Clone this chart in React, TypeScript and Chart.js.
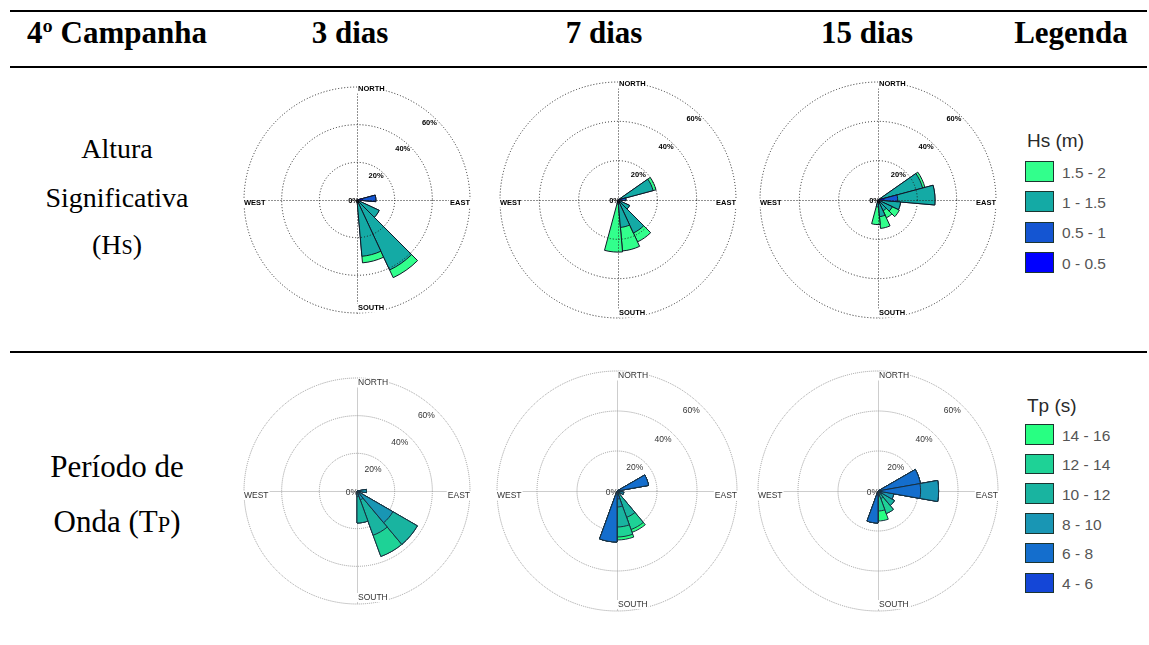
import React, { useEffect, useRef } from 'react';
import { Chart, registerables } from 'chart.js';

Chart.register(...registerables);

// ---------- categories ----------
const headers = ['4º Campanha', '3 dias', '7 dias', '15 dias', 'Legenda'];
const cardinalLabels = ['NORTH', 'EAST', 'SOUTH', 'WEST'];
const sectorsHs = ['5°', '25°', '45°', '65°', '85°', '105°', '125°', '145°', '165°', '185°', '205°', '225°', '245°', '265°', '285°', '305°', '325°', '345°'];
const sectorsTp = ['10°', '30°', '50°', '70°', '90°', '110°', '130°', '150°', '170°', '190°', '210°', '230°', '250°', '270°', '290°', '310°', '330°', '350°'];
const radialTicks = [0, 20, 40, 60];

const hsClasses = ['0 - 0.5', '0.5 - 1', '1 - 1.5', '1.5 - 2'];
const hsColors = ['#0000FF', '#1455D2', '#14AAA5', '#32FF8C'];
const tpClasses = ['4 - 6', '6 - 8', '8 - 10', '10 - 12', '12 - 14', '14 - 16'];
const tpColors = ['#1446D7', '#146ECD', '#1996B4', '#19B4A0', '#1ED296', '#28FF82'];

// ---------- Hs (%) per sector, one row per class ----------
const hs3dias = [
  [0, 0, 0, 0, 3, 0, 0, 0, 0, 0, 0, 0, 0, 0, 0, 0, 0, 0],
  [0, 0, 0, 0, 7, 0, 0, 0, 0, 0, 0, 0, 0, 0, 0, 0, 0, 0],
  [0, 0, 0, 0, 0, 0, 13, 41, 30, 0, 0, 0, 0, 0, 0, 0, 0, 0],
  [0, 0, 0, 0, 0, 0, 0, 4.5, 3.5, 0, 0, 0, 0, 0, 0, 0, 0, 0],
];
const hs7dias = [
  [0, 0, 0, 0, 1.5, 0, 0, 0, 0, 0, 0, 0, 0, 0, 0, 0, 0, 0],
  [0, 0, 0, 0, 2.5, 0, 0, 0, 0, 0, 0, 0, 0, 0, 0, 0, 0, 0],
  [0, 0, 0, 18.5, 0, 0, 6.5, 18.5, 14, 2, 0, 0, 0, 0, 0, 0, 0, 0],
  [0, 0, 0, 1.5, 0, 0, 0, 5, 12, 24.5, 0, 0, 0, 0, 0, 0, 0, 0],
];
const hs15dias = [
  [0, 0, 0, 0, 3, 0, 0, 0, 0, 0, 0, 0, 0, 0, 0, 0, 0, 0],
  [0, 0, 0, 0, 7, 0, 0, 0, 0, 0, 0, 0, 0, 0, 0, 0, 0, 0],
  [0, 0, 0, 23.5, 19, 11.5, 8, 6, 8.5, 3.5, 0, 0, 0, 0, 0, 0, 0, 0],
  [0, 0, 0, 1.2, 0, 0, 4, 4, 6, 9, 0, 0, 0, 0, 0, 0, 0, 0],
];

// ---------- Tp (%) per sector, one row per class ----------
const tp3dias = [
  [0, 0, 0, 0, 0, 0, 0, 0, 0, 0, 0, 0, 0, 0, 0, 0, 0, 0],
  [0, 0, 0, 0, 0, 0, 0, 0, 0, 0, 0, 0, 0, 0, 0, 0, 0, 0],
  [0, 0, 0, 0, 5, 0, 22, 5, 3, 0, 0, 0, 0, 0, 0, 0, 0, 0],
  [0, 0, 0, 0, 0, 0, 15, 20, 14, 0, 0, 0, 0, 0, 0, 0, 0, 0],
  [0, 0, 0, 0, 0, 0, 0, 12, 0, 0, 0, 0, 0, 0, 0, 0, 0, 0],
  [0, 0, 0, 0, 0, 0, 0, 0, 0, 0, 0, 0, 0, 0, 0, 0, 0, 0],
];
const tp7dias = [
  [0, 0, 0, 1, 0, 0, 0, 0, 0, 0, 0, 0, 0, 0, 0, 0, 0, 0],
  [0, 0, 0, 15, 2, 0, 0, 0, 4, 25.5, 0, 0, 0, 0, 0, 0, 0, 0],
  [0, 0, 0, 0, 0, 3.5, 0, 0, 4, 0, 0, 0, 0, 0, 0, 0, 0, 0],
  [0, 0, 0, 0, 0, 0, 0, 14, 10, 0, 0, 0, 0, 0, 0, 0, 0, 0],
  [0, 0, 0, 0, 0, 0, 0, 6.5, 5, 0, 0, 0, 0, 0, 0, 0, 0, 0],
  [0, 0, 0, 0, 0, 0, 0, 1.5, 1.5, 0, 0, 0, 0, 0, 0, 0, 0, 0],
];
const tp15dias = [
  [0, 0, 0, 0, 0, 0, 0, 0, 0, 2, 0, 0, 0, 0, 0, 0, 0, 0],
  [0, 0, 0, 21.5, 21.3, 2, 0, 0, 0, 14, 0, 0, 0, 0, 0, 0, 0, 0],
  [0, 0, 0, 0, 9, 6, 2, 0, 0, 0, 0, 0, 0, 0, 0, 0, 0, 0],
  [0, 0, 0, 0, 0, 0, 7.5, 4, 0, 0, 0, 0, 0, 0, 0, 0, 0, 0],
  [0, 0, 0, 0, 0, 0, 0, 8, 10, 0, 0, 0, 0, 0, 0, 0, 0, 0],
  [0, 0, 0, 0, 0, 0, 0, 0, 5, 0, 0, 0, 0, 0, 0, 0, 0, 0],
];

const SERIF = '"Liberation Serif", "Times New Roman", serif';
const SANS = '"Liberation Sans", Arial, sans-serif';

type Look = {
  font: string;
  color: string;
  lineColor: string;
  dash: number[];
  edge: string;
  gridOnTop: boolean;
  northDy: number;
  southDy: number;
  ewDy: number;
  tickDx: number;
  tickDy: number;
  zeroDx: number;
  zeroDy: number;
};

const lookHs: Look = {
  font: `bold 7.5px ${SANS}`,
  color: '#000',
  lineColor: '#222',
  dash: [1, 2],
  edge: '#101828',
  gridOnTop: true,
  northDy: 2,
  southDy: -5,
  ewDy: 3,
  tickDx: 0,
  tickDy: 2.6,
  zeroDx: 2,
  zeroDy: 0.5,
};
const lookTp: Look = {
  font: `8.5px ${SANS}`,
  color: '#333',
  lineColor: '#9a9a9a',
  dash: [1, 1],
  edge: '#183040',
  gridOnTop: false,
  northDy: 5,
  southDy: -6.5,
  ewDy: 4.5,
  tickDx: -2,
  tickDy: 5,
  zeroDx: 1,
  zeroDy: 2,
};

function drawAxes(chart: any, o: Look) {
  const s = chart.scales.r;
  const ctx = chart.ctx;
  const R = s.getDistanceFromCenterForValue(s.max);
  const x = s.xCenter + 0.5;
  const y = s.yCenter + 0.5;
  ctx.save();
  ctx.strokeStyle = o.lineColor;
  ctx.lineWidth = 1;
  ctx.setLineDash(o.dash);
  ctx.beginPath();
  ctx.moveTo(x - R, y);
  ctx.lineTo(x + R, y);
  ctx.moveTo(x, y - R);
  ctx.lineTo(x, y + R);
  ctx.stroke();
  ctx.restore();
}

function putText(ctx: any, text: string, x: number, y: number, align: string, o: Look, bg: boolean) {
  ctx.font = o.font;
  ctx.textAlign = align;
  ctx.textBaseline = 'middle';
  const w = ctx.measureText(text).width;
  const lx = align === 'left' ? x : align === 'right' ? x - w : x - w / 2;
  if (bg) {
    ctx.fillStyle = '#fff';
    ctx.fillRect(lx - 1, y - 4.5, w + 2, 9);
  }
  ctx.fillStyle = o.color;
  ctx.fillText(text, x, y);
}

function drawTexts(chart: any, o: Look) {
  const s = chart.scales.r;
  const ctx = chart.ctx;
  const R = s.getDistanceFromCenterForValue(s.max);
  const cx = s.xCenter;
  const cy = s.yCenter;
  ctx.save();
  putText(ctx, cardinalLabels[0], cx + 1, cy - R + o.northDy, 'left', o, true);
  putText(ctx, cardinalLabels[2], cx + 1, cy + R + o.southDy, 'left', o, true);
  putText(ctx, cardinalLabels[3], cx - R, cy + o.ewDy, 'left', o, true);
  putText(ctx, cardinalLabels[1], cx + R, cy + o.ewDy, 'right', o, true);
  const a = Math.PI / 4;
  s.ticks.forEach((t: any) => {
    const d = s.getDistanceFromCenterForValue(t.value);
    if (t.value === 0) {
      putText(ctx, t.label, cx + o.zeroDx, cy + o.zeroDy, 'right', o, false);
    } else {
      putText(ctx, t.label, cx + d * Math.sin(a) + o.tickDx, cy - d * Math.cos(a) + o.tickDy, 'right', o, false);
    }
  });
  ctx.restore();
}

const roseDecor = {
  id: 'roseDecor',
  beforeDatasetsDraw(chart: any, _a: any, o: any) {
    if (!o.look.gridOnTop) drawAxes(chart, o.look);
  },
  afterDatasetsDraw(chart: any, _a: any, o: any) {
    if (o.look.gridOnTop) drawAxes(chart, o.look);
  },
  afterDraw(chart: any, _a: any, o: any) {
    drawTexts(chart, o.look);
  },
};

type RoseProps = {
  labels: string[];
  classes: number[][];
  colors: string[];
  startAngle: number;
  cx: number;
  cy: number;
  R: number;
  look: Look;
};

function Rose({ labels, classes, colors, startAngle, cx, cy, R, look }: RoseProps) {
  const ref = useRef<HTMLCanvasElement>(null);
  const M = 8;
  const size = 2 * R + 2 * M;
  useEffect(() => {
    const cum: number[][] = [];
    let run = labels.map(() => 0);
    classes.forEach((c) => {
      run = run.map((v, i) => v + c[i]);
      cum.push(run.slice());
    });
    const chart = new Chart(ref.current as HTMLCanvasElement, {
      type: 'polarArea',
      data: {
        labels,
        datasets: cum.map((d, j) => ({
          data: d,
          backgroundColor: colors[j],
          borderColor: look.edge,
          borderWidth: 1,
        })),
      },
      options: {
        responsive: false,
        animation: false,
        devicePixelRatio: 1,
        events: [],
        layout: { padding: M },
        plugins: {
          legend: { display: false },
          tooltip: { enabled: false },
          roseDecor: { look },
        } as any,
        scales: {
          r: {
            min: radialTicks[0],
            max: radialTicks[radialTicks.length - 1],
            startAngle,
            ticks: { display: false, stepSize: radialTicks[1] - radialTicks[0], callback: (v: any) => `${v}%` },
            pointLabels: { display: false },
            angleLines: { display: false },
            grid: {
              circular: true,
              color: look.lineColor,
              lineWidth: 1,
              z: look.gridOnTop ? 1 : -1,
            },
            border: { dash: look.dash },
          } as any,
        },
      },
      plugins: [roseDecor as any],
    });
    return () => chart.destroy();
  }, []);
  return (
    <canvas
      ref={ref}
      width={size}
      height={size}
      style={{ position: 'absolute', left: cx - R - M, top: cy - R - M, width: size, height: size }}
    />
  );
}

function T({ x, base, size, bold, children, family = SERIF, color = '#000', align = 'center' }: any) {
  const asc = family === SERIF ? 0.8375 : 0.8465;
  return (
    <div
      style={{
        position: 'absolute',
        left: x,
        top: base - asc * size,
        fontSize: size,
        lineHeight: `${size}px`,
        fontWeight: bold ? 'bold' : 'normal',
        fontFamily: family,
        color,
        whiteSpace: 'nowrap',
        transform: align === 'center' ? 'translateX(-50%)' : 'none',
      }}
    >
      {children}
    </div>
  );
}

function Legend({ title, baseTitle, classes, colors, boxTop, pitch, boxH, boxW }: any) {
  const items = classes.map((c: string, i: number) => ({ c, col: colors[i] })).reverse();
  return (
    <>
      <T x={1027} base={baseTitle} size={19} family={SANS} color="#2a2a2a" align="left">
        {title}
      </T>
      {items.map((it: any, i: number) => {
        const top = boxTop + pitch * i;
        return (
          <React.Fragment key={it.c}>
            <div
              style={{
                position: 'absolute',
                left: 1025,
                top,
                width: boxW,
                height: boxH,
                background: it.col,
                border: '1.5px solid #1c3530',
                boxSizing: 'border-box',
              }}
            />
            <T x={1062} base={top + boxH / 2 + 6.5} size={15.5} family={SANS} color="#555" align="left">
              {it.c}
            </T>
          </React.Fragment>
        );
      })}
    </>
  );
}

const hLine = (top: number) => (
  <div style={{ position: 'absolute', left: 10, top, width: 1137, height: 2, background: '#000' }} />
);

export default function App() {
  const headerX = [117, 350, 604, 867, 1071];
  return (
    <div
      style={{
        position: 'absolute',
        left: 0,
        top: 0,
        width: 1149,
        height: 645,
        background: '#fff',
        overflow: 'hidden',
        fontFamily: SERIF,
      }}
    >
      {hLine(10)}
      {hLine(66)}
      {hLine(351)}
      {headers.map((h, i) => (
        <T key={h} x={headerX[i]} base={43} size={31} bold>
          {h}
        </T>
      ))}

      <T x={117} base={158} size={28}>Altura</T>
      <T x={117} base={207} size={28}>Significativa</T>
      <T x={117} base={254} size={28}>
        (H<span style={{ fontSize: '0.72em' }}>S</span>)
      </T>
      <T x={117} base={477} size={31}>Período de</T>
      <T x={117} base={532} size={31}>
        Onda (T<span style={{ fontSize: '0.72em' }}>P</span>)
      </T>

      <Rose labels={sectorsHs} classes={hs3dias} colors={hsColors} startAngle={-5} cx={357} cy={200} R={113} look={lookHs} />
      <Rose labels={sectorsHs} classes={hs7dias} colors={hsColors} startAngle={-5} cx={618} cy={200} R={118} look={lookHs} />
      <Rose labels={sectorsHs} classes={hs15dias} colors={hsColors} startAngle={-5} cx={878} cy={200} R={118} look={lookHs} />

      <Rose labels={sectorsTp} classes={tp3dias} colors={tpColors} startAngle={0} cx={357} cy={491} R={113} look={lookTp} />
      <Rose labels={sectorsTp} classes={tp7dias} colors={tpColors} startAngle={0} cx={617} cy={491} R={120} look={lookTp} />
      <Rose labels={sectorsTp} classes={tp15dias} colors={tpColors} startAngle={0} cx={878} cy={491} R={120} look={lookTp} />

      <Legend title="Hs (m)" baseTitle={147} classes={hsClasses} colors={hsColors} boxTop={161} pitch={30.3} boxH={21} boxW={29} />
      <Legend title="Tp (s)" baseTitle={412} classes={tpClasses} colors={tpColors} boxTop={424} pitch={29.7} boxH={20.5} boxW={28.5} />
    </div>
  );
}
